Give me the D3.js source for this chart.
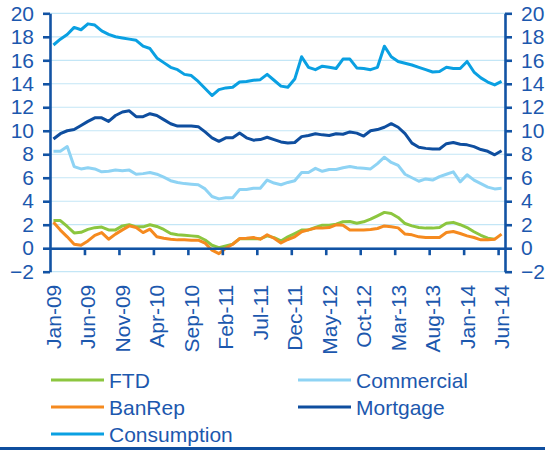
<!DOCTYPE html>
<html><head><meta charset="utf-8">
<script src="https://cdn.jsdelivr.net/npm/d3@7"></script>
<style>
html,body{margin:0;padding:0;background:#fff;}
svg text{font-family:"Liberation Sans",Arial,sans-serif;}
</style></head>
<body><svg id="chart" width="545" height="450"></svg>
<script>
const months = ["Jan-09","Feb-09","Mar-09","Apr-09","May-09","Jun-09","Jul-09","Aug-09","Sep-09","Oct-09","Nov-09","Dec-09",
"Jan-10","Feb-10","Mar-10","Apr-10","May-10","Jun-10","Jul-10","Aug-10","Sep-10","Oct-10","Nov-10","Dec-10",
"Jan-11","Feb-11","Mar-11","Apr-11","May-11","Jun-11","Jul-11","Aug-11","Sep-11","Oct-11","Nov-11","Dec-11",
"Jan-12","Feb-12","Mar-12","Apr-12","May-12","Jun-12","Jul-12","Aug-12","Sep-12","Oct-12","Nov-12","Dec-12",
"Jan-13","Feb-13","Mar-13","Apr-13","May-13","Jun-13","Jul-13","Aug-13","Sep-13","Oct-13","Nov-13","Dec-13",
"Jan-14","Feb-14","Mar-14","Apr-14","May-14","Jun-14"];
const tickLabels = ["Jan-09","Jun-09","Nov-09","Apr-10","Sep-10","Feb-11","Jul-11","Dec-11","May-12","Oct-12","Mar-13","Aug-13","Jan-14","Jun-14"];
const yTicks = [-2,0,2,4,6,8,10,12,14,16,18,20];

const ftd = [2.35,2.35,1.85,1.3,1.35,1.6,1.75,1.8,1.56,1.56,1.9,2.0,1.82,1.82,2.0,1.85,1.6,1.25,1.15,1.1,1.05,1.0,0.7,0.25,0.05,0.2,0.35,0.8,0.8,0.8,0.8,1.05,0.9,0.62,0.97,1.25,1.54,1.56,1.76,1.96,1.96,2.05,2.25,2.28,2.13,2.25,2.48,2.76,3.05,2.96,2.62,2.1,1.9,1.76,1.71,1.71,1.76,2.13,2.2,2.0,1.76,1.4,1.1,0.85,0.77,null];
const commercial = [8.25,8.25,8.65,6.95,6.75,6.85,6.75,6.5,6.55,6.65,6.6,6.65,6.3,6.35,6.45,6.3,6.05,5.75,5.6,5.5,5.45,5.4,5.05,4.4,4.2,4.3,4.3,5.0,5.0,5.1,5.1,5.8,5.55,5.4,5.6,5.75,6.45,6.45,6.8,6.55,6.7,6.7,6.85,6.95,6.85,6.8,6.75,7.2,7.75,7.3,7.05,6.3,6.0,5.7,5.9,5.8,6.1,6.3,6.5,5.65,6.25,5.8,5.5,5.2,5.05,5.1];
const banrep = [2.2,1.54,0.97,0.34,0.26,0.62,1.1,1.33,0.77,1.2,1.56,1.9,1.76,1.33,1.62,0.97,0.85,0.77,0.71,0.71,0.68,0.68,0.43,-0.17,-0.46,0.0,0.34,0.82,0.85,0.91,0.77,1.14,0.85,0.45,0.74,0.97,1.4,1.56,1.71,1.71,1.76,1.99,1.96,1.56,1.54,1.56,1.59,1.68,1.9,1.82,1.73,1.2,1.14,0.97,0.91,0.91,0.91,1.33,1.42,1.25,1.05,0.91,0.71,0.71,0.77,1.2];
const mortgage = [9.3,9.75,10.0,10.1,10.45,10.8,11.1,11.1,10.8,11.3,11.6,11.7,11.2,11.2,11.45,11.3,10.95,10.6,10.4,10.4,10.4,10.35,9.9,9.4,9.1,9.4,9.4,9.8,9.4,9.2,9.25,9.45,9.25,9.05,8.95,9.0,9.5,9.6,9.75,9.65,9.6,9.75,9.7,9.9,9.8,9.55,10.0,10.1,10.3,10.6,10.3,9.75,8.95,8.6,8.5,8.45,8.45,8.9,9.0,8.85,8.8,8.65,8.4,8.25,7.95,8.3];
const consumption = [17.3,17.8,18.2,18.8,18.6,19.1,19.0,18.5,18.2,18.0,17.9,17.8,17.7,17.2,17.0,16.2,15.8,15.4,15.2,14.8,14.7,14.2,13.6,13.0,13.5,13.65,13.7,14.15,14.2,14.3,14.35,14.8,14.3,13.8,13.7,14.4,16.3,15.4,15.2,15.5,15.4,15.3,16.1,16.1,15.35,15.3,15.2,15.4,17.2,16.3,15.9,15.75,15.6,15.4,15.2,15.0,15.05,15.4,15.3,15.3,15.9,15.0,14.5,14.15,13.9,14.2];

const seriesNames = ["FTD","Commercial","BanRep","Mortgage","Consumption"];
const seriesValues = [ftd, commercial, banrep, mortgage, consumption];
const seriesColors = ["#8CC63F","#8ED3F4","#F58A1F","#0E4E9F","#0AA0E2"];

const axisColor = "#1253A4", textColor = "#1C58AE", gridColor = "#C3E6F6";
const FS = "21px";
const svg = d3.select("#chart");
const L = 50, R = 505, T = 13.3, B = 271.7;

const x = d3.scaleBand().domain(months).range([L, R]).paddingInner(0).paddingOuter(0);
const xb = d3.scaleLinear().domain([0, months.length]).range([L, R]);
const y = d3.scaleLinear().domain([-2, 20]).range([B, T]);
const xc = m => x(m) + x.bandwidth() / 2;

// gridlines
svg.append("g").selectAll("line").data(yTicks).join("line")
  .attr("x1", L).attr("x2", R).attr("y1", d => y(d)).attr("y2", d => y(d))
  .attr("stroke", gridColor).attr("stroke-width", 1.2);

// series
const line = d3.line().defined(d => d.v != null).x(d => xc(d.m)).y(d => y(d.v));
seriesValues.forEach((vals, k) => {
  svg.append("path")
    .datum(vals.map((v, i) => ({m: months[i], v})))
    .attr("d", line).attr("fill", "none")
    .attr("stroke", seriesColors[k]).attr("stroke-width", 3)
    .attr("stroke-linejoin", "round");
});

function styleAxis(g) {
  g.selectAll("path,line").attr("stroke", axisColor).attr("stroke-width", 2.6);
  g.selectAll("text").attr("fill", textColor).style("font-size", FS)
   .style("font-family", '"Liberation Sans", Arial, sans-serif');
}

// x axis line at zero with tick marks at category boundaries
const tickIdx = tickLabels.slice(1).map(t => months.indexOf(t));
svg.append("g").attr("transform", `translate(0,${y(0)})`)
  .call(d3.axisBottom(xb).tickValues(tickIdx).tickSize(7).tickSizeOuter(0).tickFormat(""))
  .call(styleAxis);

// category labels at bottom
const gl = svg.append("g").attr("transform", `translate(0,${B + 13})`)
  .call(d3.axisBottom(x).tickValues(tickLabels).tickSize(0).tickSizeOuter(0));
gl.select(".domain").remove();
gl.selectAll("text")
  .attr("transform", "rotate(-90)").attr("x", 0).attr("y", 0).attr("dy", "0.36em")
  .attr("text-anchor", "end");
gl.selectAll(".tick").attr("transform", d => `translate(${xc(d)},0)`);
styleAxis(gl);

// y axes
svg.append("g").attr("transform", `translate(${L},0)`)
  .call(d3.axisLeft(y).tickValues(yTicks).tickSize(7).tickSizeOuter(0).tickPadding(9))
  .call(styleAxis);
svg.append("g").attr("transform", `translate(${R},0)`)
  .call(d3.axisRight(y).tickValues(yTicks).tickSize(7).tickSizeOuter(0).tickPadding(9))
  .call(styleAxis);

// legend
const legendOrder = [0, 1, 2, 3, 4];
const lg = svg.append("g");
legendOrder.forEach((k, j) => {
  const col = j % 2, row = Math.floor(j / 2);
  const lx = col === 0 ? 51 : 298, ly = 380 + row * 27;
  lg.append("line").attr("x1", lx).attr("x2", lx + 53).attr("y1", ly).attr("y2", ly)
    .attr("stroke", seriesColors[k]).attr("stroke-width", 3);
  lg.append("text").attr("x", lx + 58).attr("y", ly).attr("dy", "0.36em")
    .attr("fill", textColor).style("font-size", FS).text(seriesNames[k]);
});

// bottom rule
svg.append("line").attr("x1", 0).attr("x2", 545).attr("y1", 448.5).attr("y2", 448.5)
  .attr("stroke", "#0F4E9E").attr("stroke-width", 3);
</script></body></html>
